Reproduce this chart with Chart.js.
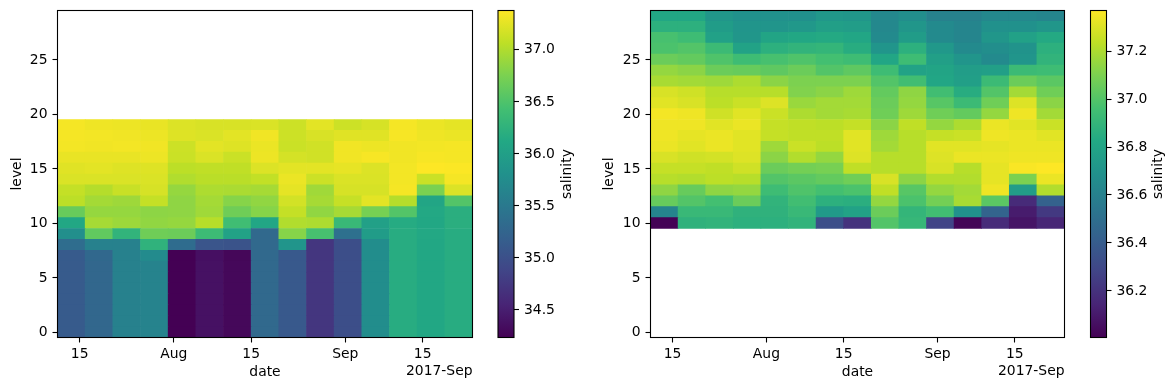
<!DOCTYPE html>
<html>
<head>
<meta charset="utf-8">
<title>salinity by level and date</title>
<script src="https://cdn.jsdelivr.net/npm/chart.js@4/dist/chart.umd.min.js"></script>
<style>
  body { margin: 0; background: #fff; }
  canvas { position: absolute; top: 0; }
</style>
</head>
<body>
<canvas id="panelLeft" width="480" height="390" style="left:0"></canvas>
<canvas id="barLeft" width="100" height="390" style="left:490px"></canvas>
<canvas id="panelRight" width="480" height="390" style="left:592px"></canvas>
<canvas id="barRight" width="94" height="390" style="left:1082px"></canvas>
<script>
// column centres, in days since 1 July 2017 (5 day means)
var columnDays = [12.5,17.5,22.5,27.5,32.5,37.5,42.5,47.5,52.5,57.5,62.5,67.5,72.5,77.5,82.5];
var tickDays = [14,31,45,62,76];
var tickLabels = ["15","Aug","15","Sep","15"];
var levelTicks = [0,5,10,15,20,25];

var leftLevels = [0,1,2,3,4,5,6,7,8,9,10,11,12,13,14,15,16,17,18,19];
var leftSalinity = [
  [35.12,35.27,35.60,35.63,34.23,34.37,34.29,35.30,35.10,34.72,34.98,35.75,36.17,36.10,36.17],
  [35.12,35.27,35.60,35.63,34.23,34.37,34.29,35.30,35.10,34.72,34.98,35.75,36.17,36.10,36.17],
  [35.12,35.27,35.60,35.63,34.23,34.37,34.29,35.30,35.10,34.72,34.98,35.75,36.17,36.10,36.17],
  [35.12,35.27,35.60,35.63,34.23,34.37,34.29,35.30,35.10,34.72,34.98,35.75,36.17,36.10,36.17],
  [35.12,35.27,35.60,35.63,34.23,34.37,34.29,35.30,35.10,34.72,34.98,35.75,36.17,36.10,36.17],
  [35.12,35.27,35.60,35.63,34.23,34.37,34.29,35.30,35.10,34.72,34.98,35.75,36.17,36.10,36.17],
  [35.12,35.27,35.60,35.63,34.23,34.37,34.29,35.30,35.10,34.72,34.98,35.75,36.17,36.10,36.17],
  [35.12,35.28,35.60,35.72,34.23,34.36,34.28,35.30,35.10,34.72,34.98,35.75,36.17,36.10,36.17],
  [35.35,35.60,35.60,36.25,35.33,35.05,35.03,35.30,35.85,34.72,34.98,35.75,36.17,36.10,36.17],
  [35.78,36.60,36.27,36.68,36.66,36.37,36.03,35.30,36.80,36.45,35.38,35.95,36.17,36.12,36.17],
  [36.10,36.95,36.90,36.85,36.87,37.03,36.40,36.08,37.00,36.98,36.33,36.00,36.15,36.10,36.20],
  [36.64,36.87,36.87,36.83,36.84,36.92,36.68,36.80,37.09,36.85,36.95,36.72,36.52,36.12,36.20],
  [37.05,36.94,36.91,37.09,36.84,36.94,36.80,36.85,37.16,36.95,37.10,37.24,37.02,36.07,36.52],
  [37.09,37.02,37.11,37.18,36.87,36.98,36.97,36.95,37.25,36.92,37.18,37.18,37.33,36.74,37.21],
  [37.20,37.20,37.20,37.20,37.00,37.04,37.04,37.08,37.28,37.13,37.20,37.20,37.32,37.12,37.33],
  [37.23,37.24,37.22,37.22,37.05,37.07,37.07,37.21,37.24,37.24,37.26,37.21,37.32,37.37,37.36],
  [37.27,37.27,37.27,37.29,37.12,37.20,37.12,37.29,37.17,37.15,37.31,37.34,37.31,37.34,37.33],
  [37.32,37.31,37.32,37.31,37.13,37.24,37.22,37.28,37.12,37.15,37.31,37.29,37.31,37.32,37.33],
  [37.33,37.32,37.31,37.29,37.22,37.20,37.24,37.31,37.13,37.19,37.23,37.23,37.34,37.30,37.28],
  [37.33,37.30,37.29,37.27,37.21,37.19,37.19,37.20,37.13,37.24,37.13,37.18,37.33,37.28,37.25]
];

var rightLevels = [10,11,12,13,14,15,16,17,18,19,20,21,22,23,24,25,26,27,28,29];
var rightSalinity = [
  [36.01,36.88,36.89,36.87,36.87,36.89,36.33,36.20,37.00,36.91,36.28,36.02,36.17,36.08,36.15],
  [36.62,36.92,36.92,36.88,36.88,36.92,36.74,36.79,37.06,36.90,36.95,36.69,36.44,36.11,36.23],
  [37.05,37.00,36.96,37.06,36.89,36.95,36.87,36.86,37.15,36.98,37.08,37.19,37.02,36.17,36.43],
  [37.14,37.05,37.14,37.15,36.94,36.99,36.96,36.98,37.24,37.01,37.15,37.18,37.34,36.76,37.21],
  [37.22,37.21,37.23,37.22,37.00,37.02,37.04,37.07,37.29,37.13,37.21,37.21,37.32,37.10,37.33],
  [37.25,37.25,37.24,37.27,37.06,37.08,37.09,37.24,37.22,37.22,37.29,37.22,37.32,37.36,37.37],
  [37.29,37.27,37.28,37.30,37.13,37.21,37.15,37.30,37.22,37.22,37.30,37.33,37.33,37.34,37.34],
  [37.33,37.31,37.33,37.31,37.17,37.26,37.23,37.31,37.18,37.22,37.31,37.31,37.32,37.33,37.33],
  [37.34,37.32,37.33,37.31,37.25,37.24,37.24,37.31,37.17,37.22,37.25,37.26,37.34,37.33,37.31],
  [37.34,37.34,37.31,37.33,37.25,37.24,37.23,37.25,37.13,37.24,37.15,37.20,37.33,37.31,37.26],
  [37.35,37.34,37.27,37.31,37.26,37.20,37.18,37.19,37.07,37.17,37.07,37.04,37.15,37.34,37.18],
  [37.31,37.29,37.23,37.26,37.30,37.16,37.18,37.18,37.06,37.15,37.01,36.93,37.07,37.30,37.13],
  [37.29,37.27,37.22,37.22,37.22,37.11,37.13,37.17,37.04,37.14,36.95,36.85,37.00,37.18,37.07],
  [37.19,37.18,37.17,37.20,37.13,37.10,37.10,37.10,37.00,36.95,36.81,36.77,36.93,37.06,37.02],
  [37.15,37.13,37.06,37.05,37.03,37.06,37.00,37.03,36.94,36.79,36.80,36.76,36.77,36.93,36.94],
  [37.06,37.04,36.99,36.94,36.97,36.99,36.96,36.94,36.81,36.94,36.77,36.71,36.65,36.71,36.89],
  [36.98,37.00,36.93,36.79,36.87,36.89,36.90,36.85,36.71,36.87,36.73,36.65,36.67,36.70,36.87],
  [36.97,36.94,36.78,36.72,36.80,36.82,36.83,36.81,36.65,36.75,36.65,36.62,36.72,36.78,36.83],
  [36.87,36.87,36.75,36.71,36.71,36.73,36.77,36.76,36.64,36.72,36.65,36.62,36.69,36.69,36.72],
  [36.82,36.82,36.72,36.69,36.69,36.68,36.73,36.72,36.64,36.67,36.60,36.60,36.64,36.64,36.62]
];

var leftRange = [34.23,37.37];
var leftBarTicks = [34.5,35.0,35.5,36.0,36.5,37.0];
var rightRange = [36.006,37.369];
var rightBarTicks = [36.2,36.4,36.6,36.8,37.0,37.2];

var viridis = [[68,1,84],[72,36,117],[65,68,135],[53,95,141],[42,120,142],[33,145,140],
               [34,168,132],[67,191,113],[122,209,81],[189,223,38],[253,231,37]];

Chart.defaults.font.family = "'DejaVu Sans'";
Chart.defaults.font.size = 13.9;
Chart.defaults.color = "#000";
Chart.defaults.animation = false;
Chart.defaults.plugins.legend.display = false;
Chart.defaults.plugins.tooltip.enabled = false;

function viridisColor(t) {
  t = Math.min(1, Math.max(0, t)) * (viridis.length - 1);
  var i = Math.min(viridis.length - 2, Math.floor(t));
  var f = t - i;
  var c = [0,1,2].map(function(k) {
    return Math.round(viridis[i][k] + (viridis[i+1][k] - viridis[i][k]) * f);
  });
  return "rgb(" + c.join(",") + ")";
}

// matplotlib style box round the axes
var frame = {
  id: "frame",
  afterDatasetsDraw: function(chart) {
    var a = chart.chartArea, ctx = chart.ctx;
    ctx.save();
    ctx.lineWidth = 1.1;
    ctx.strokeStyle = "#000";
    ctx.strokeRect(a.left, a.top, a.right - a.left, a.bottom - a.top);
    ctx.restore();
  }
};

// y tick labels sit a touch lower than the canvas middle baseline
var nudgeLabels = {
  id: "nudgeLabels",
  beforeDraw: function(chart) {
    chart.scales.y.getLabelItems().forEach(function(item) {
      item.textOffset += 0.8;
    });
  }
};

function offsetText(text) {
  return {
    id: "offsetText",
    afterDraw: function(chart) {
      var ctx = chart.ctx;
      ctx.save();
      ctx.font = "13.9px 'DejaVu Sans'";
      ctx.fillStyle = "#000";
      ctx.textAlign = "right";
      ctx.textBaseline = "middle";
      ctx.fillText(text, chart.chartArea.right, 371.5);
      ctx.restore();
    }
  };
}

function sideTitle(text, x) {
  return {
    id: "sideTitle",
    afterDraw: function(chart) {
      var a = chart.chartArea, ctx = chart.ctx;
      ctx.save();
      ctx.font = "13.9px 'DejaVu Sans'";
      ctx.fillStyle = "#000";
      ctx.textAlign = "center";
      ctx.textBaseline = "middle";
      ctx.translate(x, (a.top + a.bottom) / 2);
      ctx.rotate(-Math.PI / 2);
      ctx.fillText(text, 0, 0);
      ctx.restore();
    }
  };
}

function drawPanel(id, levels, salinity, range, leftWidth, rightPad) {
  var datasets = levels.map(function(level, row) {
    return {
      data: columnDays.map(function(day) {
        return { x: day, y: [level - 0.5, level + 0.5] };
      }),
      backgroundColor: salinity[row].map(function(v) {
        return viridisColor((v - range[0]) / (range[1] - range[0]));
      }),
      borderWidth: 0,
      grouped: false,
      barPercentage: 1,
      categoryPercentage: 1
    };
  });

  return new Chart(document.getElementById(id), {
    type: "bar",
    data: { datasets: datasets },
    plugins: [frame, nudgeLabels, offsetText("2017-Sep")],
    options: {
      responsive: false,
      layout: { padding: { top: 10.5, right: rightPad, left: 0, bottom: 0 } },
      scales: {
        x: {
          type: "linear",
          offset: false,
          min: 10,
          max: 85,
          border: { display: false },
          grid: { offset: false, drawOnChartArea: false, tickLength: 5, tickColor: "#000", tickWidth: 1.1 },
          ticks: {
            autoSkip: false,
            maxRotation: 0,
            padding: 4,
            callback: function(value) { return tickLabels[tickDays.indexOf(value)]; }
          },
          afterBuildTicks: function(scale) {
            scale.ticks = tickDays.map(function(d) { return { value: d }; });
          },
          afterFit: function(scale) {
            scale.height = 52.5;
            scale.paddingLeft = 0;
            scale.paddingRight = 0;
          },
          title: { display: true, text: "date", padding: { top: 0, bottom: 9 } }
        },
        y: {
          type: "linear",
          min: -0.5,
          max: 29.5,
          border: { display: false },
          grid: { drawOnChartArea: false, tickLength: 5, tickColor: "#000", tickWidth: 1.1 },
          ticks: { padding: 5 },
          afterBuildTicks: function(scale) {
            scale.ticks = levelTicks.map(function(v) { return { value: v }; });
          },
          afterFit: function(scale) {
            scale.width = leftWidth;
            scale.paddingTop = 0;
            scale.paddingBottom = 0;
          },
          title: { display: true, text: "level", padding: { top: 8.7, bottom: 0 } }
        }
      }
    }
  });
}

function drawColorbar(id, range, barTicks, leftPad, axisWidth, titleX) {
  return new Chart(document.getElementById(id), {
    type: "bar",
    data: {
      labels: ["salinity"],
      datasets: [{
        data: [range],
        borderWidth: 0,
        barPercentage: 1,
        categoryPercentage: 1,
        backgroundColor: function(context) {
          var a = context.chart.chartArea;
          if (!a) return "#000";
          var g = context.chart.ctx.createLinearGradient(0, a.bottom, 0, a.top);
          viridis.forEach(function(c, i) {
            g.addColorStop(i / (viridis.length - 1), "rgb(" + c.join(",") + ")");
          });
          return g;
        }
      }]
    },
    plugins: [frame, nudgeLabels, sideTitle("salinity", titleX)],
    options: {
      responsive: false,
      layout: { padding: { top: 10.5, right: 0, left: leftPad, bottom: 52.5 } },
      scales: {
        x: { display: false },
        y: {
          position: "right",
          min: range[0],
          max: range[1],
          border: { display: false },
          grid: { drawOnChartArea: false, tickLength: 5, tickColor: "#000", tickWidth: 1.1 },
          ticks: {
            padding: 5,
            callback: function(value) { return value.toFixed(1); }
          },
          afterBuildTicks: function(scale) {
            scale.ticks = barTicks.map(function(v) { return { value: v }; });
          },
          afterFit: function(scale) {
            scale.width = axisWidth;
            scale.paddingTop = 0;
            scale.paddingBottom = 0;
          }
        }
      }
    }
  });
}

drawPanel("panelLeft", leftLevels, leftSalinity, leftRange, 57.5, 7.5);
drawColorbar("barLeft", leftRange, leftBarTicks, 8, 76, 77);
drawPanel("panelRight", rightLevels, rightSalinity, rightRange, 58.5, 7.5);
drawColorbar("barRight", rightRange, rightBarTicks, 8.5, 69.5, 76.7);
</script>
</body>
</html>
